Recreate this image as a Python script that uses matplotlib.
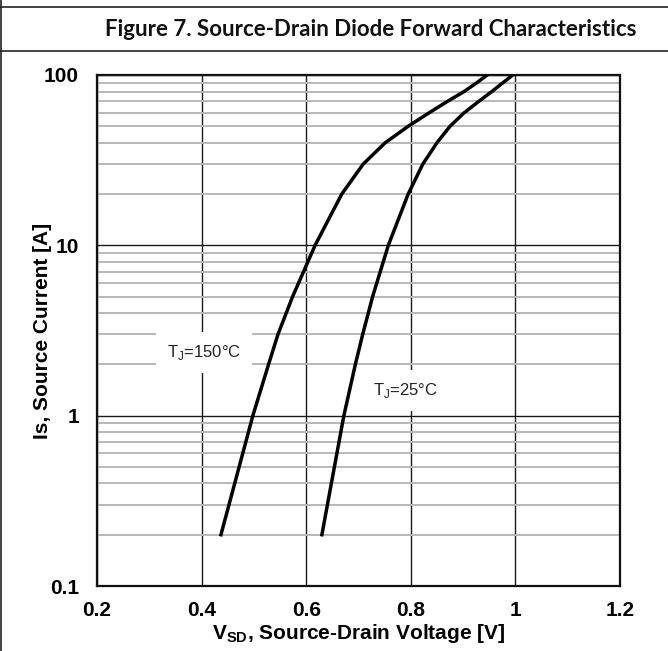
import numpy as np
import matplotlib
matplotlib.use('Agg')
import matplotlib.pyplot as plt
from matplotlib.lines import Line2D

plt.rcParams['font.family'] = ['Liberation Sans', 'DejaVu Sans']
plt.rcParams['mathtext.fontset'] = 'custom'
plt.rcParams['mathtext.rm'] = 'Liberation Sans:bold'
plt.rcParams['mathtext.sf'] = 'Liberation Sans'

# Diode curves
v_150 = [0.437, 0.498, 0.528, 0.546, 0.574, 0.617, 0.668, 0.709,
         0.751, 0.795, 0.835, 0.870, 0.902, 0.926, 0.946]
i_150 = [0.2, 1, 2, 3, 5, 10, 20, 30,
         40, 50, 60, 70, 80, 90, 100]

v_25 = [0.630, 0.672, 0.694, 0.708, 0.727, 0.757, 0.795, 0.823,
        0.850, 0.875, 0.902, 0.930, 0.955, 0.976, 0.995]
i_25 = [0.2, 1, 2, 3, 5, 10, 20, 30,
        40, 50, 60, 70, 80, 90, 100]

x_ticks = [0.2, 0.4, 0.6, 0.8, 1.0, 1.2]
x_tick_labels = ['0.2', '0.4', '0.6', '0.8', '1', '1.2']
y_ticks = [0.1, 1, 10, 100]
y_tick_labels = ['0.1', '1', '10', '100']

W, H = 668, 651
fig = plt.figure(figsize=(W / 100, H / 100), dpi=100)

# outer frame of the datasheet cell
for xs, ys in [([1, 1], [0, H]), ([0, W], [7, 7]), ([0, W], [51, 51])]:
    fig.add_artist(Line2D([x / W for x in xs], [1 - y / H for y in ys],
                          color='#222222', lw=1.2))
fig.text(371 / W, 1 - 29 / H, 'Figure 7. Source-Drain Diode Forward Characteristics',
         ha='center', va='center', fontsize=16, fontweight='bold',
         family=['Lato', 'DejaVu Sans'], color='#111111')

ax = fig.add_axes([97 / W, 1 - 586 / H, (620 - 97) / W, (586 - 75) / H])
ax.set_yscale('log')
ax.set_xlim(0.2, 1.2)
ax.set_ylim(0.1, 100)

ax.set_xticks(x_ticks)
ax.set_xticklabels(x_tick_labels)
ax.set_yticks(y_ticks)
ax.set_yticklabels(y_tick_labels)
ax.yaxis.set_minor_locator(matplotlib.ticker.LogLocator(base=10, subs=np.arange(2, 10)))
ax.yaxis.set_minor_formatter(matplotlib.ticker.NullFormatter())
ax.tick_params(which='both', length=0)
ax.tick_params(axis='x', pad=11, labelsize=15)
ax.tick_params(axis='y', pad=13, labelsize=15)
for lab in ax.get_xticklabels() + ax.get_yticklabels():
    lab.set_fontweight('bold')

ax.grid(True, which='minor', axis='y', color='#b8b8b8', lw=1.4)
ax.grid(True, which='major', axis='both', color='#1a1a1a', lw=1.0)
ax.set_axisbelow(True)
for sp in ax.spines.values():
    sp.set_linewidth(1.6)
    sp.set_color('#111111')

ax.plot(v_150, i_150, color='black', lw=2.5, solid_joinstyle='round', zorder=3)
ax.plot(v_25, i_25, color='black', lw=2.5, solid_joinstyle='round', zorder=3)

box = dict(facecolor='white', edgecolor='none', pad=8)
ax.text(0.405, 2.35, r'T$_\mathsf{J}$=150°C', ha='center', va='center',
        fontsize=12, color='#222222', bbox=box, zorder=2)
ax.text(0.79, 1.40, r'T$_\mathsf{J}$=25°C', ha='center', va='center',
        fontsize=12, color='#222222', bbox=box, zorder=2)

ax.set_xlabel(r'V$_{\mathrm{SD}}$, Source-Drain Voltage [V]', fontsize=15,
              fontweight='bold')
ax.xaxis.set_label_coords(0.5, -0.07)
ax.set_ylabel('Is, Source Current [A]', fontsize=15, fontweight='bold')
ax.yaxis.set_label_coords(-0.086, 0.5)

fig.savefig('out.png', dpi=100)
